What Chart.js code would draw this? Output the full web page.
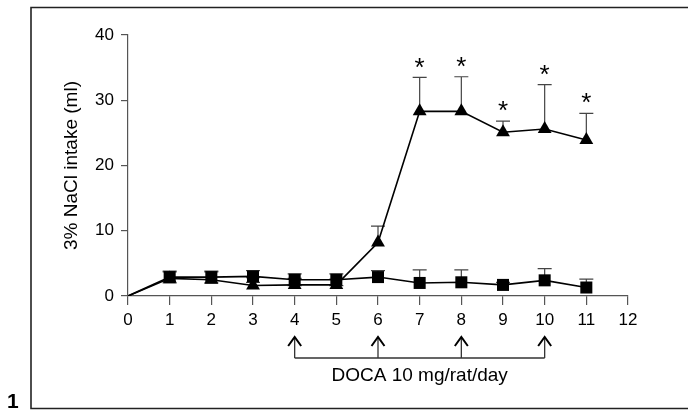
<!DOCTYPE html>
<html>
<head>
<meta charset="utf-8">
<script src="https://cdn.jsdelivr.net/npm/chart.js@4"></script>
<style>
  html, body { margin: 0; padding: 0; background: #fff; }
  #wrap { width: 688px; height: 410px; position: relative; }
</style>
</head>
<body>
<div id="wrap"><canvas id="chart" width="688" height="410"></canvas></div>
<script>
// days of the study
const days = [0, 1, 2, 3, 4, 5, 6, 7, 8, 9, 10, 11];
// control group (squares)
const controlMean = [0, 2.9, 2.9, 3.0, 2.5, 2.5, 2.9, 2.0, 2.1, 1.7, 2.4, 1.3];
const controlErrUp = [0, 0.9, 0.9, 0.9, 0.9, 0.9, 1.0, 2.0, 1.9, 0.4, 1.8, 1.3];
const controlErrDown = [0, 0.9, 0.9, 0.9, 0.9, 0.9, 0, 0, 0, 0, 0, 0];
// DOCA group (triangles)
const docaMean = [0, 2.7, 2.5, 1.6, 1.7, 1.7, 8.2, 28.3, 28.3, 25.1, 25.6, 23.9];
const docaErrUp = [0, 1.0, 1.2, 1.2, 1.0, 0.9, 2.5, 5.2, 5.3, 1.7, 6.8, 4.1];
// days marked significant
const starDays = [7, 8, 9, 10, 11];
// DOCA injection days
const docaDays = [4, 6, 8, 10];
const docaLabel = 'DOCA 10 mg/rat/day';
const xTicks = [0, 1, 2, 3, 4, 5, 6, 7, 8, 9, 10, 11, 12];
const yTicks = [0, 10, 20, 30, 40];

const FONT = "'Liberation Sans', Arial, sans-serif";

const toPts = (arr) => days.map((d, i) => ({ x: d, y: arr[i] }));

const extras = {
  id: 'extras',
  beforeDatasetsDraw(chart) {
    const { ctx, scales: { x, y } } = chart;
    ctx.save();
    ctx.strokeStyle = '#444';
    ctx.lineWidth = 1.2;
    const bar = (d, m, e, dir) => {
      if (!e) return;
      const px = x.getPixelForValue(d);
      const p0 = y.getPixelForValue(m);
      const p1 = y.getPixelForValue(m + dir * e);
      ctx.beginPath();
      ctx.moveTo(px, p0); ctx.lineTo(px, p1);
      ctx.moveTo(px - 7, p1); ctx.lineTo(px + 7, p1);
      ctx.stroke();
    };
    days.forEach((d, i) => {
      if (i === 0) return;
      bar(d, docaMean[i], docaErrUp[i], 1);
      bar(d, controlMean[i], controlErrUp[i], 1);
      bar(d, controlMean[i], controlErrDown[i], -1);
    });
    ctx.restore();
  },
  afterDraw(chart) {
    const { ctx, scales: { x, y } } = chart;
    ctx.save();
    // figure frame
    ctx.strokeStyle = '#222';
    ctx.lineWidth = 1.6;
    ctx.beginPath();
    ctx.moveTo(688, 7.5); ctx.lineTo(31, 7.5); ctx.lineTo(31, 408.5); ctx.lineTo(688, 408.5);
    ctx.stroke();
    ctx.fillStyle = '#000';
    ctx.font = 'bold 21px ' + FONT;
    ctx.textAlign = 'left';
    ctx.textBaseline = 'alphabetic';
    ctx.fillText('1', 7, 408);

    // significance stars
    ctx.font = '26px ' + FONT;
    ctx.textAlign = 'center';
    ctx.textBaseline = 'middle';
    starDays.forEach(d => {
      const i = days.indexOf(d);
      const top = y.getPixelForValue(docaMean[i] + docaErrUp[i]);
      ctx.fillText('*', x.getPixelForValue(d), top - 9);
    });

    // DOCA injection arrows
    const lineY = 358, tipY = 337;
    ctx.strokeStyle = '#333';
    ctx.lineWidth = 1.3;
    ctx.beginPath();
    ctx.moveTo(x.getPixelForValue(docaDays[0]), lineY);
    ctx.lineTo(x.getPixelForValue(docaDays[docaDays.length - 1]), lineY);
    docaDays.forEach(d => {
      const px = x.getPixelForValue(d);
      ctx.moveTo(px, lineY); ctx.lineTo(px, tipY + 1);
    });
    ctx.stroke();
    ctx.strokeStyle = '#000';
    ctx.lineWidth = 2;
    ctx.beginPath();
    docaDays.forEach(d => {
      const px = x.getPixelForValue(d);
      ctx.moveTo(px - 6.5, tipY + 9); ctx.lineTo(px, tipY); ctx.lineTo(px + 6.5, tipY + 9);
    });
    ctx.stroke();
    ctx.font = '19px ' + FONT;
    ctx.fillStyle = '#000';
    const mid = (x.getPixelForValue(docaDays[0]) + x.getPixelForValue(docaDays[docaDays.length - 1])) / 2;
    ctx.fillText(docaLabel, mid, 376);
    ctx.restore();
  }
};

new Chart(document.getElementById('chart'), {
  type: 'line',
  data: {
    datasets: [
      {
        label: 'Control',
        data: toPts(controlMean),
        borderColor: '#000',
        backgroundColor: '#000',
        borderWidth: 1.6,
        pointStyle: 'rect',
        pointRadius: (c) => c.dataIndex === 0 ? 0 : 8.5,
        pointBorderWidth: 0,
        tension: 0
      },
      {
        label: 'DOCA',
        data: toPts(docaMean),
        borderColor: '#000',
        backgroundColor: '#000',
        borderWidth: 1.6,
        pointStyle: 'triangle',
        pointRadius: (c) => c.dataIndex === 0 ? 0 : 8,
        pointBorderWidth: 0,
        tension: 0
      }
    ]
  },
  options: {
    responsive: false,
    animation: false,
    events: [],
    layout: { padding: { left: 58, right: 60, top: 35, bottom: 84 } },
    plugins: { legend: { display: false }, tooltip: { enabled: false } },
    scales: {
      x: {
        type: 'linear',
        min: 0, max: 12,
        afterBuildTicks: (s) => { s.ticks = xTicks.map(v => ({ value: v })); },
        afterFit: (s) => { s.height = 30; },
        ticks: { color: '#000', font: { family: FONT, size: 17 }, padding: 5, maxRotation: 0, autoSkip: false },
        grid: { drawOnChartArea: false, tickLength: 9, color: '#555', lineWidth: 1.2 },
        border: { color: '#555', width: 1.2 }
      },
      y: {
        min: 0, max: 40,
        afterBuildTicks: (s) => { s.ticks = yTicks.map(v => ({ value: v })); },
        afterFit: (s) => { s.width = 70; },
        ticks: { color: '#000', font: { family: FONT, size: 17 }, padding: 7 },
        grid: { drawOnChartArea: false, tickLength: 7, color: '#555', lineWidth: 1.2 },
        border: { color: '#555', width: 1.2 },
        title: { display: true, text: '3% NaCl intake (ml)', color: '#000', font: { family: FONT, size: 19 }, padding: { top: 2, bottom: 0 } }
      }
    }
  },
  plugins: [extras]
});
</script>
</body>
</html>
